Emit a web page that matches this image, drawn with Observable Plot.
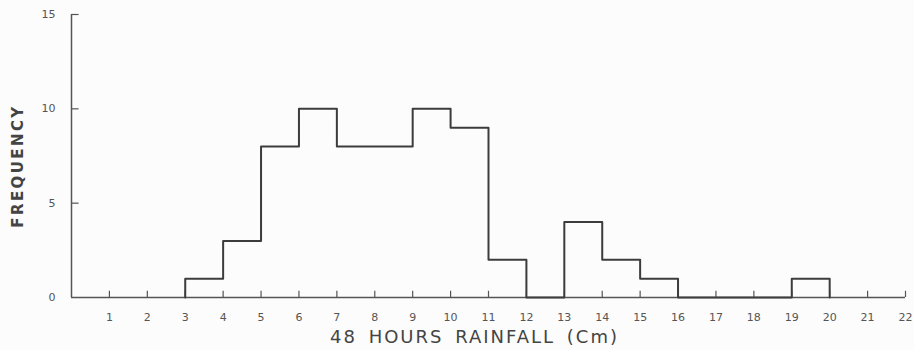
<!DOCTYPE html>
<html>
<head>
<meta charset="utf-8">
<script src="https://cdn.jsdelivr.net/npm/d3@7"></script>
<script src="https://cdn.jsdelivr.net/npm/@observablehq/plot@0.6"></script>
<style>
  html, body { margin: 0; padding: 0; background: #fcfcfc; }
  #chart svg { display: block; background: #fcfcfc; }
</style>
</head>
<body>
<div id="chart"></div>
<script>
// Bin lower edges (cm) and frequencies (each bin is 1 cm wide)
const binStarts = [3, 4, 5, 6, 7, 8, 9, 10, 11, 12, 13, 14, 15, 16, 17, 18, 19];
const counts    = [1, 3, 8, 10, 8, 8, 10, 9, 2, 0, 4, 2, 1, 0, 0, 0, 1];
const binWidth = 1;
const xTicks = d3.range(1, 23);
const yTicks = [0, 5, 10, 15];
const xTitle = "48 HOURS RAINFALL (Cm)";
const yTitle = "FREQUENCY";

// Step outline: start at the base, one point per bin, return to base at the end
const outline = [{x: binStarts[0], y: 0}]
  .concat(binStarts.map((b, i) => ({x: b, y: counts[i]})))
  .concat([{x: binStarts[binStarts.length - 1] + binWidth, y: 0}]);

const ink = "#3c3c3c";
const font = "'DejaVu Sans', sans-serif";

const chart = Plot.plot({
  width: 914,
  height: 350,
  marginLeft: 71,
  marginRight: 9,
  marginTop: 14,
  marginBottom: 53,
  style: {background: "#fcfcfc", fontFamily: font, color: "#555"},
  x: {domain: [0, 22]},
  y: {domain: [0, 15]},
  marks: [
    // axis lines
    Plot.ruleY([0], {x1: 0, x2: 22, stroke: "#555", strokeWidth: 1.5}),
    Plot.ruleX([0], {y1: 0, y2: 15, stroke: "#555", strokeWidth: 1.5}),
    // inward ticks
    Plot.ruleX(xTicks, {x: d => d, y1: 0, y2: 0.33, stroke: "#555", strokeWidth: 1.2}),
    Plot.ruleY(yTicks.filter(d => d > 0), {y: d => d, x1: 0, x2: 0.2, stroke: "#555", strokeWidth: 1.2}),
    // tick labels
    Plot.axisX({ticks: xTicks, tickSize: 0, tickPadding: 16, fontSize: 11, label: null, fill: "#555"}),
    Plot.axisY({ticks: yTicks, tickSize: 0, tickPadding: 16, fontSize: 11, label: null, fill: "#555"}),
    // histogram outline
    Plot.line(outline, {x: "x", y: "y", curve: "step-after", stroke: ink, strokeWidth: 2}),
    // titles
    Plot.text([xTitle], {text: d => d, frameAnchor: "bottom", textAnchor: "middle", dx: -14, dy: 45,
      fontSize: 18, fill: "#444"}),
    Plot.text([yTitle], {text: d => d, frameAnchor: "left", textAnchor: "middle", dx: -53, dy: 10,
      rotate: -90, fontSize: 15, fontWeight: "bold", fill: "#444"})
  ]
});
d3.select(chart).selectAll("text")
  .filter(function () { return this.textContent === xTitle; })
  .style("letter-spacing", "2px").style("word-spacing", "4px");
d3.select(chart).selectAll("text")
  .filter(function () { return this.textContent === yTitle; })
  .style("letter-spacing", "2.4px");
document.getElementById("chart").appendChild(chart);
</script>
</body>
</html>
